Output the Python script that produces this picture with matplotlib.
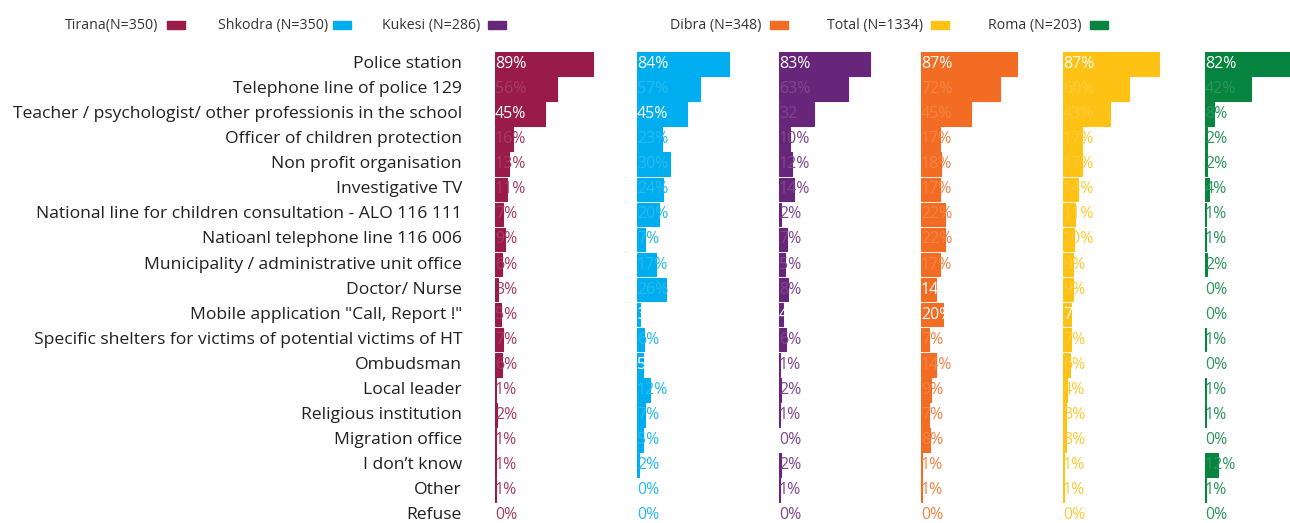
import matplotlib.pyplot as plt
from matplotlib.colors import to_rgb
from matplotlib.patches import Rectangle

# answers: where would children report a case
categories = [
    "Police station",
    "Telephone line of police 129",
    "Teacher / psychologist/ other professionis in the school",
    "Officer of children protection",
    "Non profit organisation",
    "Investigative TV",
    "National line for children consultation - ALO 116 111",
    "Natioanl telephone line 116 006",
    "Municipality / administrative unit office",
    "Doctor/ Nurse",
    "Mobile application \"Call, Report !\"",
    "Specific shelters for victims of potential victims of HT",
    "Ombudsman",
    "Local leader",
    "Religious institution",
    "Migration office",
    "I don\u2019t know",
    "Other",
    "Refuse",
]

tirana = [89, 56, 45, 16, 13, 11, 7, 9, 6, 3, 5, 7, 6, 1, 2, 1, 1, 1, 0]
shkodra = [84, 57, 45, 23, 30, 24, 20, 7, 17, 26, 3, 6, 5, 12, 7, 5, 2, 0, 0]
kukesi = [83, 63, 32, 10, 12, 14, 2, 7, 5, 8, 4, 6, 1, 2, 1, 0, 2, 1, 0]
dibra = [87, 72, 45, 17, 18, 17, 22, 22, 17, 14, 20, 7, 14, 9, 7, 8, 1, 1, 0]
total = [87, 60, 43, 17, 17, 14, 11, 10, 9, 9, 7, 7, 6, 4, 3, 3, 1, 1, 0]
roma = [82, 42, 8, 2, 2, 4, 1, 1, 2, 0, 0, 1, 0, 1, 1, 0, 12, 1, 0]

legend_labels = ["Tirana(N=350)", "Shkodra (N=350)", "Kukesi (N=286)",
                 "Dibra (N=348)", "Total (N=1334)", "Roma (N=203)"]

colors = ["#981b48", "#00aeef", "#68267a", "#f26d23", "#fec215", "#07843f"]
# rows whose value label is printed in white
white_rows = [[0, 2], [0, 2, 10, 12], [0, 10], [0, 9, 10], [0, 10], [0]]

series = [tirana, shkodra, kukesi, dibra, total, roma]

plt.rcParams['font.family'] = ['Open Sans', 'DejaVu Sans']

W, H = 1290, 523
fig = plt.figure(figsize=(W / 100, H / 100), dpi=100)

px_per_pct = 1.1
row_h = 25.06
top = 51.5


def tint(c, f=0.15):
    r, g, b = to_rgb(c)
    return (r + (1 - r) * f, g + (1 - g) * f, b + (1 - b) * f)


n = len(categories)
ymax = -0.5 + (H - top) / row_h
for k, (vals, color) in enumerate(zip(series, colors)):
    left = 495 + 142 * k
    ax = fig.add_axes([left / W, 0, 140 / W, (H - top) / H])
    # a thin edge keeps the 1% bars visible, zero values get no bar at all
    lw = [0.8 if v > 0 else 0 for v in vals]
    ax.barh(range(n), vals, height=0.94, color=color, edgecolor=color,
            linewidth=lw)
    ax.set_xlim(0, 140 / px_per_pct)
    ax.set_ylim(ymax, -0.5)
    ax.axis('off')
    for i, v in enumerate(vals):
        txt = "32" if (k == 2 and i == 2) else f"{v}%"
        c = "white" if i in white_rows[k] else tint(color)
        ax.text(0, i, txt, ha='left', va='center', fontsize=11.5, color=c)
    if k == 0:
        for i, cat in enumerate(categories):
            ax.text(-(495 - 462) / px_per_pct, i, cat, ha='right', va='center',
                    fontsize=12.6, color='#231f20', clip_on=False)

# legend along the top: label followed by a colour swatch
text_x = [65, 218, 382, 670, 827, 988]
swatch_x = [167, 333, 488, 770, 931, 1090]
for lab, tx, sx, color in zip(legend_labels, text_x, swatch_x, colors):
    fig.text(tx / W, 1 - 25.5 / H, lab, ha='left', va='center', fontsize=10.2,
             color='#333333')
    fig.patches.append(Rectangle((sx / W, 1 - 29 / H), 18 / W, 8 / H,
                                 color=color, transform=fig.transFigure))

plt.savefig("out.png", dpi=100)
